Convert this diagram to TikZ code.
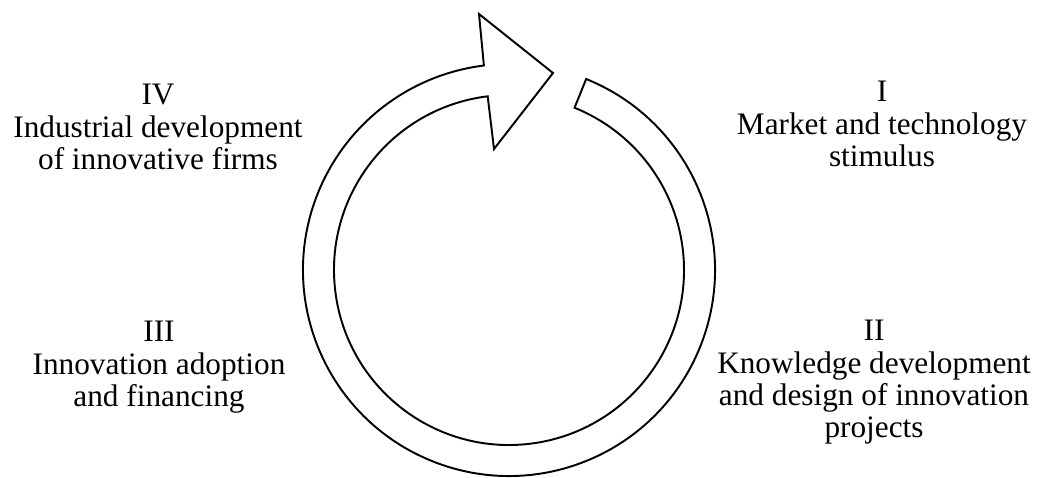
\documentclass[tikz,border=0pt]{standalone}
\usepackage{fontspec}
\setmainfont{Liberation Serif}
\usetikzlibrary{positioning, calc}
\tikzset{
  stagelabel/.style={font=\fontsize{17.8}{18.4}\selectfont,
                     align=center, inner sep=0pt, anchor=north},
  cyclearrow/.style={draw=black, line width=1.1pt, fill=white,
                     line join=miter}
}

\begin{document}
\begin{tikzpicture}[x=0.02cm, y=0.02cm]
  \useasboundingbox (0,0) rectangle (1037,477);
  \coordinate (hub) at (509,207);
  %% Ring arrow ────────────────────────────────────────────────
  \draw[cyclearrow]
    ([shift={(68:206)}]hub) arc[start angle=68, end angle=-263, radius=206]
    -- (479,463) -- (553,404) -- (494,328)
    -- ([shift={(97:175)}]hub) arc[start angle=-263, end angle=68, radius=175]
    -- cycle;
  %% Stage labels ──────────────────────────────────────────────
  \node[stagelabel] (stageI)   at (882,396) {I\\Market and technology\\stimulus};
  \node[stagelabel] (stageII)  at (874,157) {II\\Knowledge development\\and design of innovation\\projects};
  \node[stagelabel] (stageIII) at (159,156) {III\\Innovation adoption\\and financing};
  \node[stagelabel] (stageIV)  at (158,393) {IV\\Industrial development\\of innovative firms};
\end{tikzpicture}
\end{document}
